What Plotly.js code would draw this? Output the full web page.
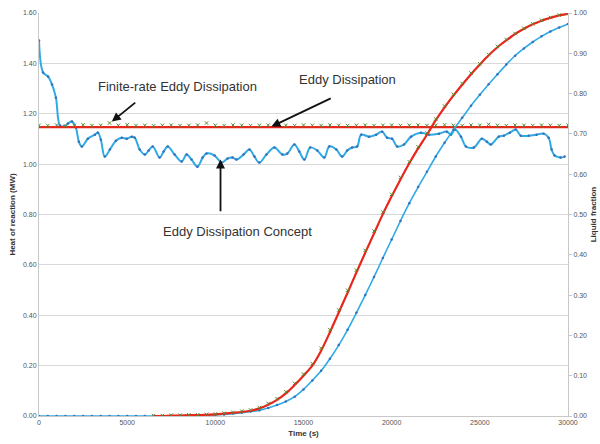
<!DOCTYPE html>
<html>
<head>
<meta charset="utf-8">
<script src="https://cdn.plot.ly/plotly-3.0.1.min.js"></script>
<style>html,body{margin:0;padding:0;background:#fff;}#chart{width:600px;height:444px;}</style>
</head>
<body>
<div id="chart"></div>
<script>
// Common time grid (s)
const timeGrid = [0,500,1000,1500,2000,2500,3000,3500,4000,4500,5000,5500,6000,6500,7000,7500,8000,8500,9000,9500,10000,10500,11000,11500,12000,12500,13000,13500,14000,14500,15000,15500,16000,16500,17000,17500,18000,18500,19000,19500,20000,20500,21000,21500,22000,22500,23000,23500,24000,24500,25000,25500,26000,26500,27000,27500,28000,28500,29000,29500,30000];

// Heat of reaction (MW) - Eddy Dissipation (red)
const heatED = [1.147,1.147,1.147,1.147,1.147,1.147,1.147,1.147,1.147,1.147,1.147,1.147,1.147,1.147,1.147,1.147,1.147,1.147,1.147,1.147,1.147,1.147,1.147,1.147,1.147,1.147,1.147,1.147,1.147,1.147,1.147,1.147,1.147,1.147,1.147,1.147,1.147,1.147,1.147,1.147,1.147,1.147,1.147,1.147,1.147,1.147,1.147,1.147,1.147,1.147,1.147,1.147,1.147,1.147,1.147,1.147,1.147,1.147,1.147,1.147,1.147];

// Heat of reaction (MW) - Finite-rate Eddy Dissipation (green markers)
const heatFRED = [1.154,1.153,1.155,1.152,1.154,1.156,1.153,1.154,1.163,1.154,1.156,1.153,1.154,1.152,1.154,1.155,1.153,1.154,1.155,1.163,1.154,1.153,1.155,1.154,1.153,1.154,1.155,1.158,1.154,1.153,1.155,1.154,1.153,1.155,1.154,1.153,1.154,1.155,1.153,1.154,1.155,1.153,1.154,1.155,1.153,1.154,1.156,1.154,1.153,1.155,1.154,1.158,1.154,1.153,1.155,1.154,1.153,1.155,1.154,1.153,1.155];

// Heat of reaction (MW) - Eddy Dissipation Concept (blue)
const edcTime = [0,230,510,740,960,1190,1410,1640,1870,2090,2260,2430,2770,3170,3340,3510,3730,4020,4360,4690,4980,5260,5430,5710,6000,6220,6450,6840,7070,7300,7690,8090,8370,8650,8990,9280,9500,9960,10350,10690,10970,11200,11600,11930,12220,12500,12900,13350,13800,14080,14480,14760,15050,15380,15780,16180,16460,16860,17190,17480,17760,18040,18270,18720,19120,19460,19740,20020,20310,20700,21100,21660,22120,22680,23130,23360,23590,23930,24210,24660,25110,25400,25620,26070,26360,26700,27040,27320,27770,28220,28620,28900,29070,29240,29580,29810];
const heatEDC = [1.491,1.364,1.348,1.316,1.264,1.153,1.149,1.161,1.169,1.145,1.089,1.070,1.101,1.117,1.125,1.097,1.030,1.058,1.093,1.105,1.101,1.109,1.105,1.058,1.038,1.054,1.070,1.026,1.050,1.070,1.038,1.010,1.038,1.018,0.990,1.026,1.042,1.034,1.006,1.022,1.026,1.018,1.038,1.058,1.030,1.006,1.038,1.066,1.038,1.042,1.078,1.050,1.018,1.066,1.054,1.026,1.070,1.058,1.030,1.054,1.066,1.070,1.117,1.109,1.117,1.129,1.105,1.101,1.070,1.078,1.109,1.125,1.117,1.121,1.129,1.117,1.137,1.109,1.070,1.066,1.101,1.089,1.078,1.109,1.113,1.125,1.137,1.113,1.113,1.117,1.121,1.105,1.058,1.034,1.026,1.030];

// Liquid fraction
const liqED = [null,null,null,null,null,null,null,null,null,null,null,null,null,0.000,0.000,0.001,0.001,0.002,0.002,0.003,0.004,0.006,0.008,0.010,0.013,0.019,0.028,0.040,0.056,0.077,0.100,0.125,0.162,0.208,0.257,0.306,0.356,0.405,0.453,0.501,0.545,0.587,0.627,0.664,0.698,0.734,0.766,0.795,0.822,0.848,0.872,0.895,0.915,0.932,0.948,0.961,0.972,0.981,0.988,0.994,0.998];
const liqFRED = [null,null,null,null,null,null,null,null,null,null,null,null,null,0.001,0.001,0.002,0.002,0.003,0.003,0.004,0.005,0.007,0.009,0.012,0.015,0.021,0.031,0.043,0.060,0.081,0.104,0.130,0.168,0.214,0.263,0.312,0.362,0.411,0.459,0.506,0.550,0.592,0.631,0.668,0.702,0.737,0.769,0.798,0.825,0.851,0.874,0.897,0.917,0.934,0.949,0.962,0.973,0.982,0.989,0.995,0.999];
const liqEDC = [0,0,0,0,0,0,0,0,0,0,0,0,0,0,0.000,0.000,0.001,0.001,0.002,0.002,0.003,0.004,0.006,0.008,0.011,0.014,0.020,0.027,0.036,0.048,0.066,0.088,0.112,0.142,0.176,0.214,0.256,0.300,0.345,0.392,0.438,0.484,0.528,0.568,0.606,0.644,0.678,0.710,0.740,0.770,0.797,0.823,0.848,0.872,0.894,0.912,0.928,0.942,0.954,0.964,0.973];

// Ticks
const heatTicks = [0,0.2,0.4,0.6,0.8,1.0,1.2,1.4,1.6];
const liqTicks = [0,0.1,0.2,0.3,0.4,0.5,0.6,0.7,0.8,0.9,1.0];
const timeTicks = [0,5000,10000,15000,20000,25000,30000];

const lightBlue = '#2eaae6';
const dotBlue = '#3d6fb5';
const red = '#e8261c';
const green = '#5b8a2d';

const traces = [
  {x: timeGrid, y: liqEDC, yaxis: 'y2', mode: 'lines+markers', line: {color: lightBlue, width: 1.6, shape: 'spline', smoothing: 0.8},
   marker: {color: dotBlue, size: 2.5}, hoverinfo: 'skip'},
  {x: timeGrid, y: liqED, yaxis: 'y2', mode: 'lines', line: {color: red, width: 2.2, shape: 'spline', smoothing: 0.8}, hoverinfo: 'skip'},
  {x: timeGrid, y: liqFRED, yaxis: 'y2', mode: 'markers',
   marker: {symbol: 'x-thin', size: 3.5, line: {color: green, width: 1}, color: green}, hoverinfo: 'skip'},
  {x: edcTime, y: heatEDC, mode: 'lines+markers', line: {color: lightBlue, width: 2, shape: 'spline', smoothing: 1},
   marker: {color: dotBlue, size: 2.5}, hoverinfo: 'skip'},
  {x: timeGrid, y: heatED, mode: 'lines', line: {color: red, width: 2.4}, hoverinfo: 'skip'},
  {x: timeGrid, y: heatFRED, mode: 'markers',
   marker: {symbol: 'x-thin', size: 3.5, line: {color: green, width: 1}, color: green}, hoverinfo: 'skip'}
];

const font = 'Liberation Sans, Arial, sans-serif';
const layout = {
  width: 600, height: 444,
  margin: {l: 39, r: 32, t: 13, b: 28},
  paper_bgcolor: '#fff', plot_bgcolor: '#fff',
  showlegend: false,
  font: {family: font, size: 8, color: '#555'},
  xaxis: {range: [0, 30000], tickvals: timeTicks, ticktext: timeTicks.map(String),
    showgrid: false, zeroline: false, showline: true, linecolor: '#c8c8c8', linewidth: 1,
    ticks: '', tickfont: {size: 7, color: '#555'},
    title: {text: '<b>Time (s)</b>', font: {size: 8, color: '#333'}, standoff: 4}},
  yaxis: {range: [0, 1.6], tickvals: heatTicks, ticktext: heatTicks.map(v => v.toFixed(2)),
    showgrid: true, gridcolor: '#d9d9d9', gridwidth: 1, zeroline: false,
    showline: true, linecolor: '#c8c8c8', ticks: '', tickfont: {size: 7, color: '#555'},
    title: {text: '<b>Heat of reaction (MW)</b>', font: {size: 8, color: '#333'}, standoff: 6}},
  yaxis2: {range: [0, 1.0], overlaying: 'y', side: 'right', tickvals: liqTicks,
    ticktext: liqTicks.map(v => v.toFixed(2)), showgrid: false, zeroline: false,
    showline: true, linecolor: '#c8c8c8', ticks: 'outside', ticklen: 3, tickcolor: '#c8c8c8',
    tickfont: {size: 7, color: '#555'},
    title: {text: '<b>Liquid fraction</b>', font: {size: 8, color: '#333'}, standoff: 4}},
  annotations: [
    {x: 7862, y: 1.308, xref: 'x', yref: 'y', text: 'Finite-rate Eddy Dissipation', showarrow: false,
     font: {family: font, size: 13, color: '#333'}},
    {x: 17477, y: 1.336, xref: 'x', yref: 'y', text: 'Eddy Dissipation', showarrow: false,
     font: {family: font, size: 13, color: '#333'}},
    {x: 11255, y: 0.732, xref: 'x', yref: 'y', text: 'Eddy Dissipation Concept', showarrow: false,
     font: {family: font, size: 13, color: '#333'}},
    {x: 4129, y: 1.169, ax: 5543, ay: 1.249, xref: 'x', yref: 'y', axref: 'x', ayref: 'y', text: '',
     showarrow: true, arrowhead: 2, arrowsize: 1, arrowwidth: 1.8, arrowcolor: '#111'},
    {x: 13178, y: 1.149, ax: 16629, ay: 1.264, xref: 'x', yref: 'y', axref: 'x', ayref: 'y', text: '',
     showarrow: true, arrowhead: 2, arrowsize: 1, arrowwidth: 1.8, arrowcolor: '#111'},
    {x: 10294, y: 1.018, ax: 10294, ay: 0.807, xref: 'x', yref: 'y', axref: 'x', ayref: 'y', text: '',
     showarrow: true, arrowhead: 2, arrowsize: 1, arrowwidth: 1.8, arrowcolor: '#111'}
  ]
};

Plotly.newPlot('chart', traces, layout, {staticPlot: true, displayModeBar: false});
</script>
</body>
</html>
